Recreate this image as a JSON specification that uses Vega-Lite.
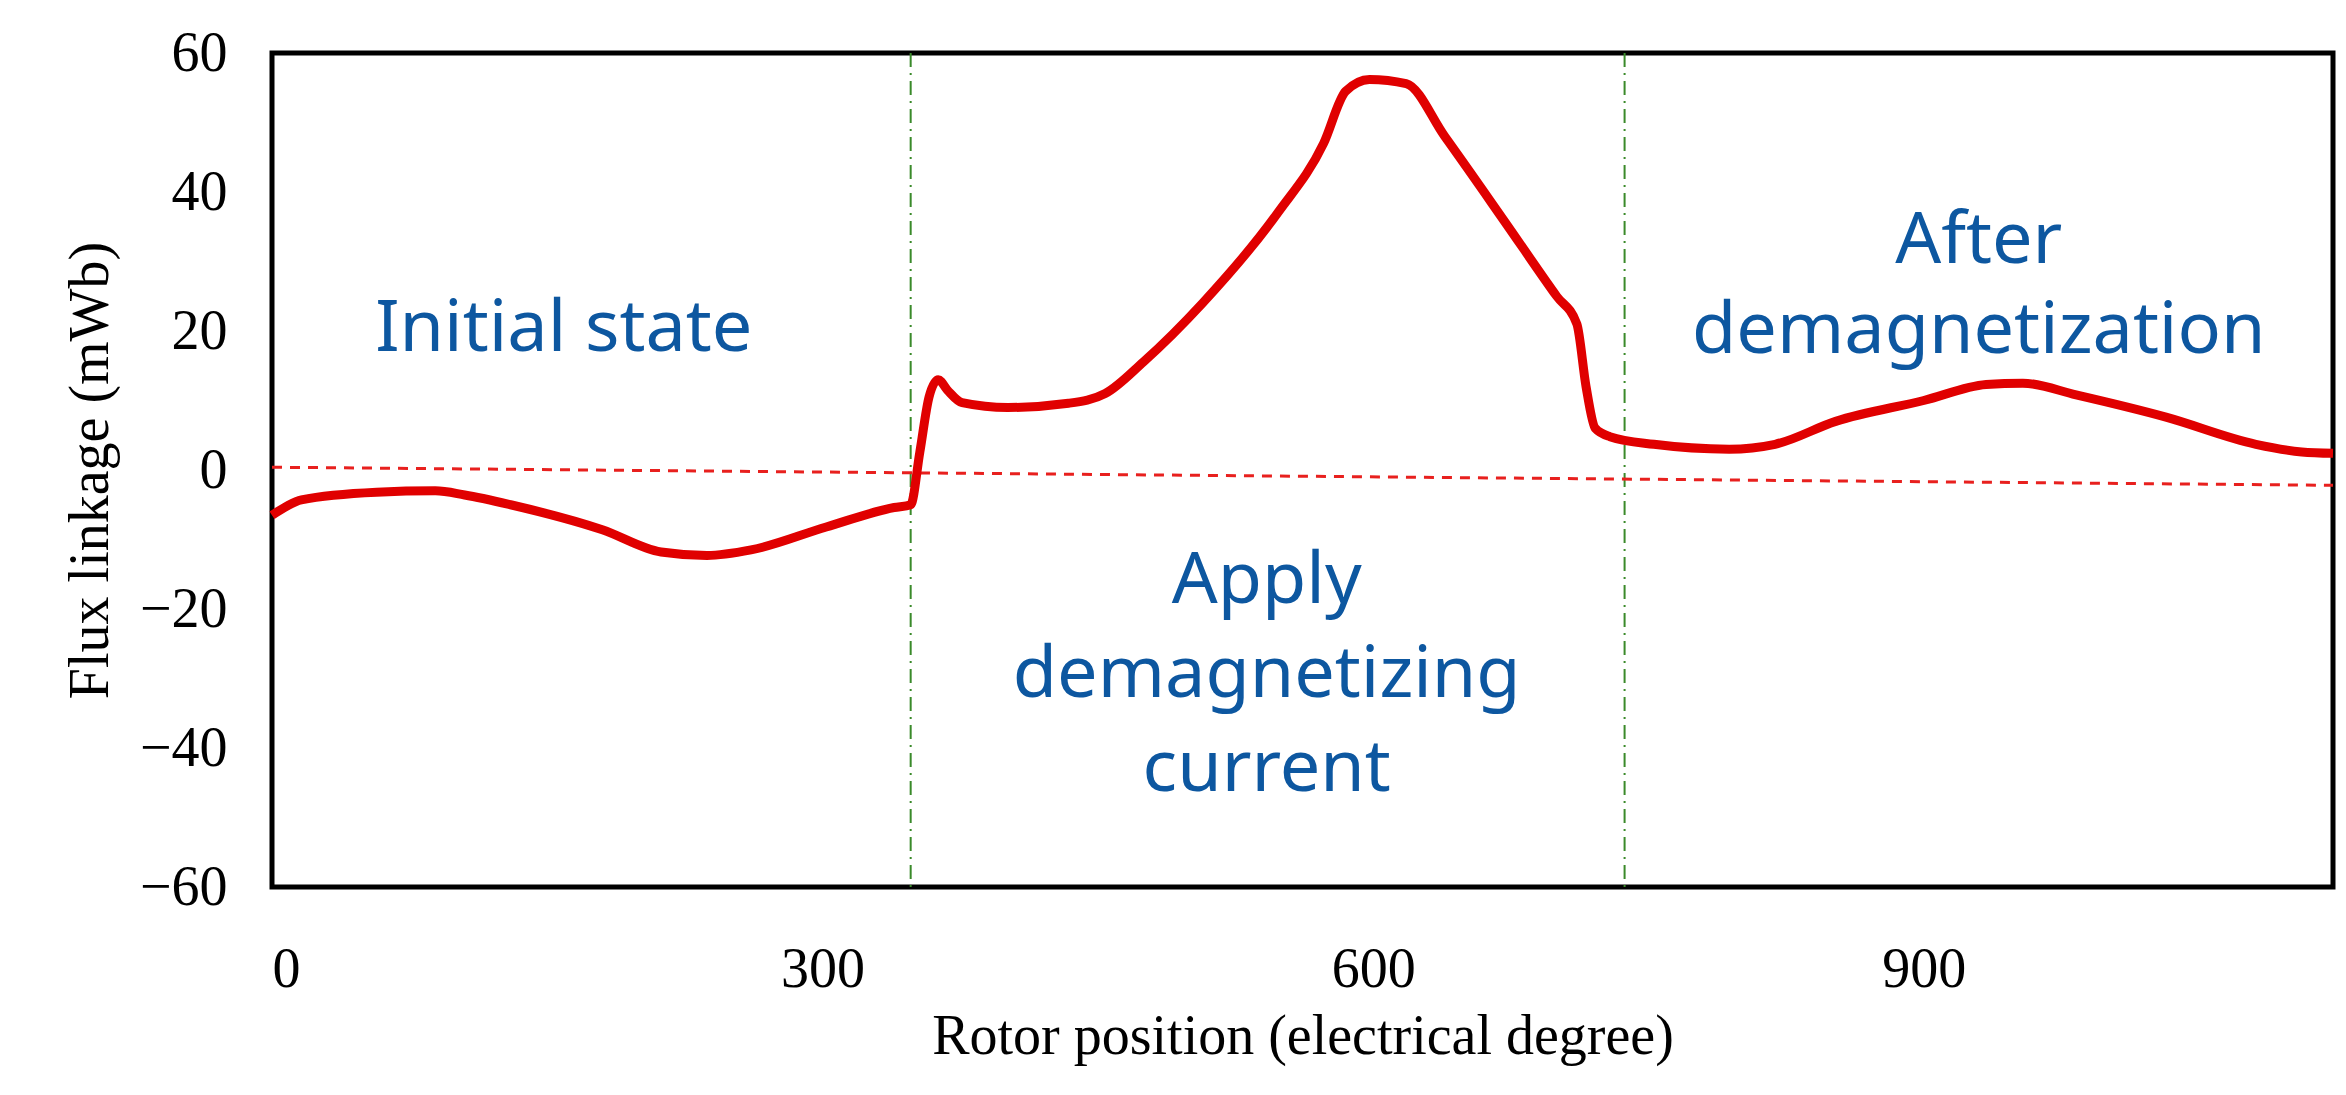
{
  "$schema": "https://vega.github.io/schema/vega-lite/v6.json",
  "autosize": {"type": "none"},
  "width": 2061,
  "height": 834,
  "padding": {"left": 272, "top": 53, "right": 13, "bottom": 208},
  "background": "white",
  "config": {
    "view": {"stroke": "black", "strokeWidth": 5},
    "axis": {"grid": false, "ticks": false, "domain": false, "labelFont": "Liberation Serif", "labelFontSize": 56, "labelColor": "black", "titleFont": "Liberation Serif", "titleFontSize": 56, "titleFontWeight": "normal", "titleColor": "black"}
  },
  "datasets": {
    "curve": [
      {"x": 0, "y": -6.5}, {"x": 8, "y": -5.2}, {"x": 16, "y": -4.3}, {"x": 57, "y": -3.2}, {"x": 89, "y": -3},
      {"x": 105, "y": -3.6}, {"x": 130, "y": -5}, {"x": 180, "y": -8.6}, {"x": 212, "y": -11.8}, {"x": 237, "y": -12.3},
      {"x": 261, "y": -11.5}, {"x": 302, "y": -8.2}, {"x": 339, "y": -5.4}, {"x": 348, "y": -5}, {"x": 353, "y": 2.6},
      {"x": 358, "y": 10.5}, {"x": 363, "y": 13}, {"x": 368, "y": 11.5}, {"x": 376, "y": 9.7}, {"x": 401, "y": 9},
      {"x": 434, "y": 9.6}, {"x": 454, "y": 11}, {"x": 475, "y": 15.6}, {"x": 507, "y": 24}, {"x": 548, "y": 37},
      {"x": 573, "y": 47}, {"x": 585, "y": 54.5}, {"x": 598, "y": 56.2}, {"x": 618, "y": 55.6}, {"x": 639, "y": 48},
      {"x": 671, "y": 36}, {"x": 700, "y": 25}, {"x": 711, "y": 21}, {"x": 716, "y": 12}, {"x": 721, "y": 6},
      {"x": 729, "y": 4.8}, {"x": 753, "y": 3.7}, {"x": 794, "y": 3}, {"x": 819, "y": 3.7}, {"x": 852, "y": 7},
      {"x": 900, "y": 10}, {"x": 934, "y": 12.3}, {"x": 954, "y": 12.5}, {"x": 983, "y": 10.8}, {"x": 1032, "y": 7.6},
      {"x": 1081, "y": 3.7}, {"x": 1106, "y": 2.6}, {"x": 1123, "y": 2.4}
    ],
    "zero": [{"x": 0, "y": 0.4}, {"x": 1123, "y": -2.2}],
    "bounds": [{"x": 348}, {"x": 737}],
    "labels": [
      {"x": 159, "y": 20.3, "t": "Initial state"},
      {"x": 930, "y": 33, "t": "After"},
      {"x": 930, "y": 20, "t": "demagnetization"},
      {"x": 542, "y": -16, "t": "Apply"},
      {"x": 542, "y": -29.5, "t": "demagnetizing"},
      {"x": 542, "y": -43, "t": "current"}
    ]
  },
  "layer": [
    {
      "data": {"name": "bounds"},
      "mark": {"type": "rule", "color": "#3a8a2a", "strokeWidth": 2, "strokeDash": [14, 6, 2, 6]},
      "encoding": {"x": {"field": "x", "type": "quantitative"}}
    },
    {
      "data": {"name": "zero"},
      "mark": {"type": "line", "color": "#e8201e", "strokeWidth": 3, "strokeDash": [10, 8]},
      "encoding": {
        "x": {"field": "x", "type": "quantitative"},
        "y": {"field": "y", "type": "quantitative"}
      }
    },
    {
      "data": {"name": "curve"},
      "mark": {"type": "line", "color": "#e00000", "strokeWidth": 9, "interpolate": "monotone"},
      "encoding": {
        "x": {"field": "x", "type": "quantitative", "scale": {"domain": [0, 1123], "nice": false},
          "axis": {"values": [0, 300, 600, 900], "labelPadding": 55, "title": "Rotor position (electrical degree)", "titlePadding": 12}},
        "y": {"field": "y", "type": "quantitative", "scale": {"domain": [-60, 60], "nice": false},
          "axis": {"values": [-60, -40, -20, 0, 20, 40, 60], "labelPadding": 45, "title": "Flux linkage (mWb)", "titlePadding": 20}}
      }
    },
    {
      "data": {"name": "labels"},
      "mark": {"type": "text", "font": "Noto Sans", "fontSize": 72, "color": "#0d57a0", "baseline": "middle"},
      "encoding": {
        "x": {"field": "x", "type": "quantitative"},
        "y": {"field": "y", "type": "quantitative"},
        "text": {"field": "t"}
      }
    }
  ]
}
